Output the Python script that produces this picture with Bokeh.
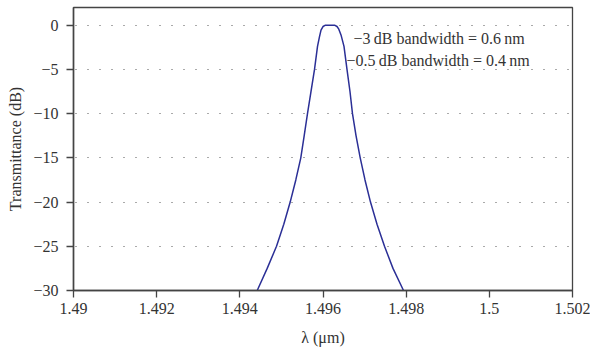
from bokeh.plotting import figure
from bokeh.models import Range1d, FixedTicker, CustomJSTickFormatter, ColumnDataSource
from bokeh.core.properties import value
from bokeh.embed import file_html
from bokeh.resources import INLINE

# ---- data ----
wavelength_um = [1.494418, 1.494658, 1.494882, 1.495057, 1.495211, 1.495346,
                 1.495466, 1.495548, 1.495627, 1.495711, 1.495796, 1.495868,
                 1.495916, 1.495952, 1.496000, 1.496060, 1.496168, 1.496277,
                 1.496337, 1.496380, 1.496433, 1.496505, 1.496577, 1.496649,
                 1.496709, 1.496794, 1.496895, 1.497010, 1.497142, 1.497299,
                 1.497479, 1.497683, 1.497936]
transmittance_db = [-30.0, -27.5, -25.0, -22.5, -20.0, -17.5,
                    -15.0, -12.5, -10.0, -7.5, -5.0, -2.4,
                    -1.3, -0.55, -0.15, 0.0, 0.0, 0.0,
                    -0.15, -0.45, -1.1, -2.4, -5.0, -7.5,
                    -10.0, -12.5, -15.0, -17.5, -20.0, -22.5,
                    -25.0, -27.5, -30.0]

x_ticks = [1.49, 1.492, 1.494, 1.496, 1.498, 1.5, 1.502]
x_tick_labels = ["1.49", "1.492", "1.494", "1.496", "1.498", "1.5", "1.502"]
y_ticks = [0, -5, -10, -15, -20, -25, -30]
y_tick_labels = ["0", "\u22125", "\u221210", "\u221215", "\u221220", "\u221225", "\u221230"]

annotations = ["\u22123\u2009dB bandwidth = 0.6\u2009nm",
               "\u22120.5\u2009dB bandwidth = 0.4\u2009nm"]
x_label = "\u03bb (\u03bcm)"
y_label = "Transmittance (dB)"

FONT = "Liberation Serif"
AXC = "#444444"
TXC = "#333333"

p = figure(width=590, height=349, output_backend="svg", toolbar_location=None,
           x_range=Range1d(1.49, 1.502), y_range=Range1d(-30, 2),
           min_border_left=73, min_border_right=18, min_border_top=7,
           min_border_bottom=59)
p.background_fill_color = "white"
p.border_fill_color = "white"
p.outline_line_color = AXC
p.outline_line_width = 1.3

src = ColumnDataSource(dict(x=wavelength_um, y=transmittance_db))
p.line("x", "y", source=src, line_color="#2b2f96", line_width=1.5,
       line_join="round")

fmt_code = """
let best = 0, bd = 1e9;
for (let i = 0; i < ticks_arr.length; i++) {
  const d = Math.abs(ticks_arr[i] - tick);
  if (d < bd) { bd = d; best = i; }
}
return bd < 1e-7 ? labels[best] : '';
"""
p.xaxis.ticker = FixedTicker(ticks=x_ticks)
p.xaxis.formatter = CustomJSTickFormatter(args=dict(ticks_arr=x_ticks, labels=x_tick_labels), code=fmt_code)
p.yaxis.ticker = FixedTicker(ticks=y_ticks)
p.yaxis.formatter = CustomJSTickFormatter(args=dict(ticks_arr=y_ticks, labels=y_tick_labels), code=fmt_code)

for ax in (p.xaxis, p.yaxis):
    ax.axis_line_color = AXC
    ax.axis_line_width = 1.5
    ax.major_tick_line_color = AXC
    ax.major_tick_line_width = 1.3
    ax.major_tick_in = 0
    ax.major_tick_out = 7
    ax.minor_tick_line_color = None
    ax.major_label_text_font = FONT
    ax.major_label_text_font_size = "16px"
    ax.major_label_text_color = TXC
    ax.axis_label_text_font = FONT
    ax.axis_label_text_font_size = "16px"
    ax.axis_label_text_font_style = "normal"
    ax.axis_label_text_color = TXC

p.xaxis.axis_label = x_label
p.yaxis.axis_label = y_label
p.xaxis.major_label_standoff = 5
p.yaxis.major_label_standoff = 8
p.xaxis.axis_label_standoff = 12
p.yaxis.axis_label_standoff = 6

p.xgrid.visible = False
p.ygrid.grid_line_color = "#555555"
p.ygrid.grid_line_width = 1.2
p.ygrid.grid_line_dash = "1 11"
p.ygrid.grid_line_dash_offset = 10

p.text(x=[1.496733, 1.496565], y=[-1.47, -3.96], text=annotations,
       text_font=value(FONT), text_font_size="16px", text_color=TXC,
       text_align="left", text_baseline="middle")

open("out.html", "w").write(file_html(p, INLINE))
